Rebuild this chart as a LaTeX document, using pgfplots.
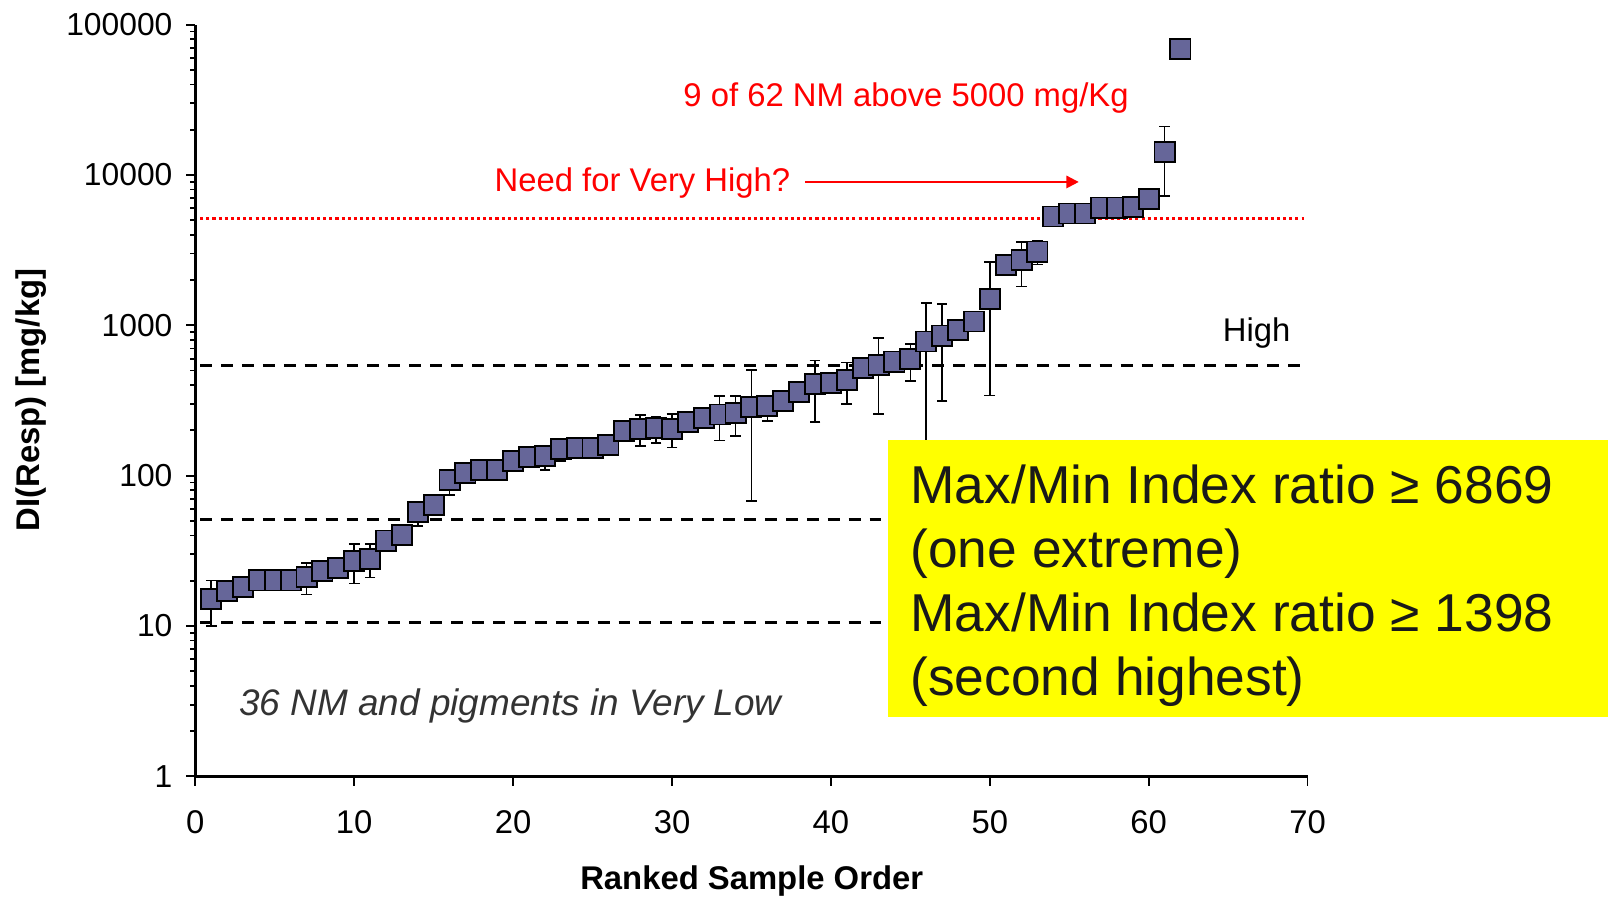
\documentclass[border=0pt]{standalone}
\usepackage{pgfplots}
\usepackage{pgfplotstable}
\pgfplotsset{compat=1.18}
\usetikzlibrary{arrows.meta}
\usepackage{fontspec}
\setmainfont{Liberation Sans}
\definecolor{markfill}{RGB}{102,102,153}
\definecolor{hlyellow}{RGB}{255,255,0}
\definecolor{annogray}{RGB}{51,51,51}

\pgfplotstableread{
x y ep em
1 15.1 5 5.1
2 17.1 0 0
3 18.1 0 0
4 20.1 0 0
5 20.1 0 0
6 20.1 0 0
7 21.2 5 5
8 23.1 0 0
9 24.2 0 0
10 27.2 8 8
11 28 7 7
12 37 0 0
13 40.3 0 0
14 57.3 4 11
15 64.1 0 0
16 93.5 8 19
17 104.7 0 0
18 109 0 0
19 109 0 0
20 125 0 0
21 133 0 0
22 135 8 26
23 150 5 25
24 152 0 0
25 153 0 0
26 160 0 0
27 199 0 0
28 205 49 48
29 207 38 42
30 205 51 51
31 228 0 0
32 242 0 0
33 255 82 84
34 260 77 76
35 285 217 217
36 292 0 60
37 314 0 0
38 359 0 0
39 405 177 177
40 412 0 0
41 433 132 133
42 521 0 0
43 545 275 288
44 574 0 0
45 595 153 168
46 780 626 720
47 854 536 540
48 931 0 0
49 1060 0 0
50 1490 1140 1149
51 2524 0 0
52 2725 865 914
53 3093 540 558
54 5290 0 0
55 5540 0 0
56 5540 0 0
57 6070 0 0
58 6070 0 0
59 6100 0 0
60 6930 0 0
61 14190 6800 6960
62 68800 0 0
}\dataA

\begin{document}
\begin{tikzpicture}
\path[use as bounding box] (0,0) rectangle (784pt,437pt);
\begin{axis}[
  at={(95.25pt,58.5pt)}, anchor=south west,
  scale only axis, width=542.25pt, height=366.5pt,
  xmin=0, xmax=70, ymin=1, ymax=100000, ymode=log,
  axis lines=left, axis line style={line width=1.6pt, -},
  xtick={0,10,...,70},
  ytick={1,10,100,1000,10000,100000},
  yticklabels={1,10,100,1000,10000,100000},
  /pgf/number format/assume math mode=true,
  tick align=outside, major tick length=4.5pt, minor tick length=2.5pt,
  every tick/.style={black, line width=0.9pt},
  xticklabel style={font=\fontsize{16}{16}\selectfont, anchor=north, inner sep=0pt, yshift=-12pt},
  yticklabel style={font=\fontsize{15.5}{15.5}\selectfont, anchor=east, inner sep=0pt, xshift=-6.5pt},
  clip=false,
]
\addplot[black, line width=1.3pt, dash pattern=on 5.8pt off 4.4pt] coordinates {(0.3,10.6) (69.8,10.6)};
\addplot[black, line width=1.3pt, dash pattern=on 5.8pt off 4.4pt] coordinates {(0.3,51) (69.8,51)};
\addplot[black, line width=1.3pt, dash pattern=on 5.8pt off 4.4pt] coordinates {(0.3,539) (69.8,539)};
\addplot[red, line width=1.5pt, dash pattern=on 1.5pt off 1.5pt] coordinates {(0.3,5160) (69.8,5160)};
\addplot[red, line width=1pt, -{Triangle[length=6pt,width=6pt]}] coordinates {(38.4,8980) (55.6,8980)};
\addplot[only marks, mark=square*, mark size=4.9pt,
  mark options={fill=markfill, draw=black, line width=0.9pt},
  error bars/.cd, y dir=both, y explicit,
  error bar style={line width=0.8pt, black},
  error mark options={rotate=90, mark size=2.6pt, line width=0.8pt, black}]
  table[x=x, y=y, y error plus=ep, y error minus=em] {\dataA};
\end{axis}
\begin{scope}[x=0.5pt, y=-0.5pt, yshift=437pt]
\fill[hlyellow] (866,429) rectangle (1568,699);
\node[anchor=base, inner sep=0pt, text=red, font=\fontsize{16}{16}\selectfont] at (883.5,103.5) {9 of 62 NM above 5000 mg/Kg};
\node[anchor=base west, inner sep=0pt, text=red, font=\fontsize{16}{16}\selectfont] at (482,187) {Need for Very High?};
\node[anchor=base west, inner sep=0pt, font=\fontsize{16}{16}\selectfont] at (1192,333) {High};
\node[anchor=base west, inner sep=0pt, text=annogray, font=\fontsize{18}{18}\selectfont\itshape] at (233,698) {36 NM and pigments in Very Low};
\node[anchor=base west, inner sep=0pt, text=black!90, font=\fontsize{26}{26}\selectfont] at (887.5,491) {Max/Min Index ratio ≥ 6869};
\node[anchor=base west, inner sep=0pt, text=black!90, font=\fontsize{26}{26}\selectfont] at (887.5,553) {(one extreme)};
\node[anchor=base west, inner sep=0pt, text=black!90, font=\fontsize{26}{26}\selectfont] at (887.5,616) {Max/Min Index ratio ≥ 1398};
\node[anchor=base west, inner sep=0pt, text=black!90, font=\fontsize{26}{26}\selectfont] at (887.5,678) {(second highest)};
\node[rotate=90, inner sep=0pt, font=\fontsize{16}{16}\selectfont\bfseries] at (30,390) {DI(Resp) [mg/kg]};
\node[anchor=base, inner sep=0pt, font=\fontsize{16}{16}\selectfont\bfseries] at (733,867) {Ranked Sample Order};
\end{scope}
\end{tikzpicture}
\end{document}
